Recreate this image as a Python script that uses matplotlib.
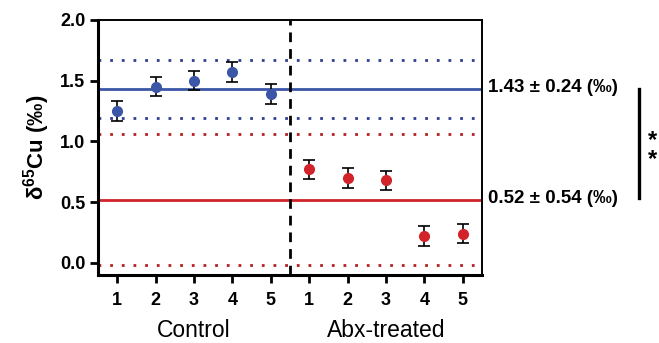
import matplotlib.pyplot as plt

plt.rcParams['font.family'] = ['Liberation Sans', 'DejaVu Sans']

# data
control_vals = [1.25, 1.45, 1.50, 1.57, 1.39]
control_err = [0.08, 0.08, 0.08, 0.08, 0.08]
abx_vals = [0.77, 0.70, 0.68, 0.22, 0.24]
abx_err = [0.08, 0.08, 0.08, 0.08, 0.08]
tick_labels = ['1', '2', '3', '4', '5', '1', '2', '3', '4', '5']
control_mean, control_sd = 1.43, 0.24
abx_mean, abx_sd = 0.52, 0.54

blue = '#3b56a6'
red = '#d2232a'

fig = plt.figure(figsize=(6.59, 3.43), dpi=100)
ax = fig.add_axes([0.1487, 0.1983, 0.5827, 0.7434])

xc = [1, 2, 3, 4, 5]
xa = [6, 7, 8, 9, 10]

# mean and +/- sd lines
ax.axhline(control_mean, color=blue, lw=2, zorder=1)
ax.axhline(abx_mean, color=red, lw=2, zorder=1)
for v in (control_mean + control_sd, control_mean - control_sd):
    ax.plot([0.5, 10.35], [v, v], color='#2e3f8f', lw=2, ls=(0, (1, 3.2)), zorder=1)
for v in (abx_mean + abx_sd, abx_mean - abx_sd):
    ax.plot([0.5, 10.35], [v, v], color='#b32025', lw=2, ls=(0, (1, 3.2)), zorder=1)

ax.axvline(5.5, color='black', lw=2, ls=(0, (3.5, 2.5)), zorder=2)

ax.errorbar(xc, control_vals, yerr=control_err, fmt='o', color=blue, ms=7,
            ecolor='black', elinewidth=1.2, capsize=4, capthick=1.2, zorder=3)
ax.errorbar(xa, abx_vals, yerr=abx_err, fmt='o', color=red, ms=7,
            ecolor='black', elinewidth=1.2, capsize=4, capthick=1.2, zorder=3)

ax.set_xlim(0.5, 10.5)
ax.set_ylim(-0.1, 2.0)
ax.set_yticks([0.0, 0.5, 1.0, 1.5, 2.0])
ax.set_yticklabels(['0.0', '0.5', '1.0', '1.5', '2.0'], fontsize=13, fontweight='bold')
ax.set_xticks(xc + xa)
ax.set_xticklabels(tick_labels, fontsize=13, fontweight='bold')
ax.tick_params(axis='both', direction='out', length=6, width=2, pad=3)
ax.tick_params(axis='x', pad=6)

for side in ('left', 'bottom'):
    ax.spines[side].set_linewidth(2.2)
for side in ('top', 'right'):
    ax.spines[side].set_linewidth(1.4)

ax.set_ylabel(r'$\mathregular{\delta^{65}}$Cu (‰)', fontsize=16, fontweight='bold', labelpad=6)

ax.text(3, -0.56, 'Control', ha='center', va='center', fontsize=16.5)
ax.text(8, -0.56, 'Abx-treated', ha='center', va='center', fontsize=16.5)

ax.text(10.65, control_mean + 0.01, f'{control_mean:.2f} ± {control_sd:.2f} (‰)',
        ha='left', va='center', fontsize=13.5, fontweight='bold', clip_on=False)
ax.text(10.65, abx_mean + 0.01, f'{abx_mean:.2f} ± {abx_sd:.2f} (‰)',
        ha='left', va='center', fontsize=13.5, fontweight='bold', clip_on=False)

ax.plot([14.6, 14.6], [1.43, 0.53], color='black', lw=2.4, clip_on=False)
ax.text(14.95, 0.93, '*\n*', ha='center', va='center', linespacing=0.75,
        fontsize=17, fontweight='bold', clip_on=False)

fig.savefig('out.png', dpi=100)
